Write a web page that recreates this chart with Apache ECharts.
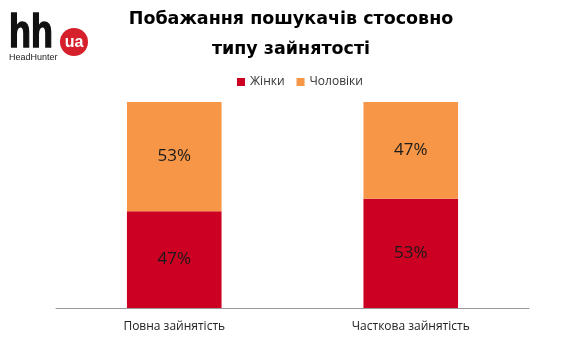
<!DOCTYPE html>
<html>
<head>
<meta charset="utf-8">
<script src="https://cdn.jsdelivr.net/npm/echarts@6/dist/echarts.min.js"></script>
<style>
  html, body { margin: 0; padding: 0; background: #fff; }
  #chart { width: 564px; height: 342px; }
</style>
</head>
<body>
<div id="chart"></div>
<script>
// Employment type categories and share of each gender (percent)
const categories = ['Повна зайнятість', 'Часткова зайнятість'];
const women = [47, 53];
const men = [53, 47];
const seriesNames = ['Жінки', 'Чоловіки'];

const chart = echarts.init(document.getElementById('chart'));

const labelStyle = {
  show: true,
  position: 'inside',
  formatter: p => p.value + '%',
  color: '#1a1a1a',
  fontSize: 17,
  fontFamily: 'Open Sans'
};

chart.setOption({
  animation: false,
  title: {
    text: 'Побажання пошукачів стосовно\nтипу зайнятості',
    left: 286,
    textAlign: 'center',
    top: -1,
    textStyle: {
      fontFamily: 'DejaVu Sans',
      fontWeight: 'bold',
      fontSize: 17.5,
      lineHeight: 30,
      color: '#000'
    }
  },
  legend: {
    data: seriesNames,
    top: 71,
    left: 232,
    itemWidth: 8,
    itemHeight: 8,
    itemGap: 12,
    icon: 'rect',
    textStyle: { fontFamily: 'Open Sans', fontSize: 12, color: '#333' }
  },
  grid: { left: 56, right: 35, top: 102, bottom: 34 },
  xAxis: {
    type: 'category',
    data: categories,
    axisTick: { show: false },
    axisLine: { lineStyle: { color: '#999', width: 1 } },
    axisLabel: { fontFamily: 'Open Sans', fontSize: 12, color: '#222', margin: 13 }
  },
  yAxis: {
    type: 'value',
    min: 0,
    max: 100,
    show: false
  },
  series: [
    {
      name: seriesNames[0],
      type: 'bar',
      stack: 'total',
      data: women,
      barWidth: '40%',
      itemStyle: { color: '#CC0022' },
      label: labelStyle
    },
    {
      name: seriesNames[1],
      type: 'bar',
      stack: 'total',
      data: men,
      barWidth: '40%',
      itemStyle: { color: '#F79646' },
      label: labelStyle
    }
  ],
  graphic: [
    {
      type: 'text',
      x: 9,
      y: 34,
      scaleX: 0.78,
      style: {
        text: 'hh',
        font: 'bold 46px "Liberation Sans"',
        fill: '#111',
        stroke: '#111',
        lineWidth: 1.5,
        verticalAlign: 'middle'
      }
    },
    {
      type: 'circle',
      shape: { cx: 74, cy: 42, r: 14 },
      style: { fill: '#D6202B' }
    },
    {
      type: 'text',
      x: 74,
      y: 43,
      style: {
        text: 'ua',
        font: 'bold 16px "Liberation Sans"',
        fill: '#fff',
        align: 'center',
        verticalAlign: 'middle'
      }
    },
    {
      type: 'text',
      x: 9,
      y: 58,
      style: {
        text: 'HeadHunter',
        font: '9px "Liberation Sans"',
        fill: '#222',
        verticalAlign: 'middle'
      }
    }
  ]
});
</script>
</body>
</html>
